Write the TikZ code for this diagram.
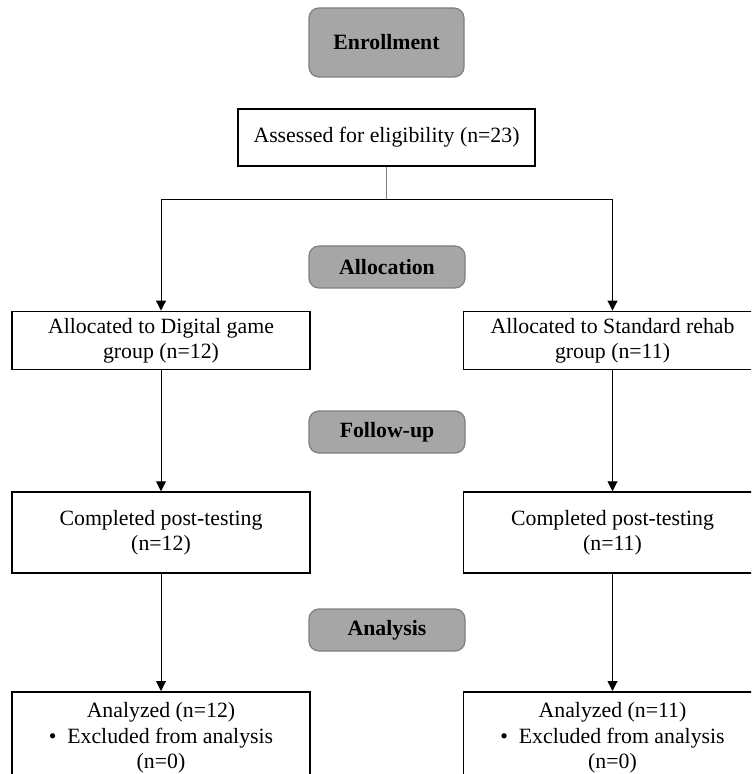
\documentclass[tikz,border=0pt]{standalone}
\usepackage{fontspec}
\setmainfont{Liberation Serif}
\usepackage{xcolor}
\usetikzlibrary{arrows.meta}

\definecolor{stagefill}{HTML}{A6A6A6}
\definecolor{stageline}{HTML}{7F7F7F}

\begin{document}
\begin{tikzpicture}[x=0.5pt, y=-0.5pt,
  font=\fontsize{10.9}{12.6}\selectfont,
  stage/.style={draw=stageline, fill=stagefill, rounded corners=5pt, line width=0.6pt,
    minimum width=78pt, minimum height=21pt, inner sep=0pt, font=\fontsize{10.9}{12.6}\selectfont\bfseries},
  box/.style={draw, line width=0.75pt, minimum width=149pt, align=center, inner xsep=0pt},
  flow/.style={-{Triangle[length=5pt,width=5pt]}, line width=0.5pt}]
\useasboundingbox (0,0) rectangle (751,774);
\clip (0,0) rectangle (751,774);

% stage labels
\node[stage, minimum width=77.5pt, minimum height=34.5pt] (enrol) at (386.5,42.5) {Enrollment};
\node[stage] (alloc) at (387,267) {Allocation};
\node[stage] (follow) at (387,432) {Follow-up};
\node[stage] (analysis) at (387,630) {Analysis};

% boxes
\node[box, minimum width=148.5pt, minimum height=28.5pt] (assess) at (386.5,137.5) {Assessed for eligibility (n=23)};
\node[box, minimum height=28.5pt] (allocL) at (161,340.5) {Allocated to Digital game\\group (n=12)};
\node[box, minimum height=28.5pt] (allocR) at (612.5,340.5) {Allocated to Standard rehab\\group (n=11)};
\node[box, minimum height=40.5pt] (compL) at (161,532.5) {Completed post-testing\\(n=12)};
\node[box, minimum height=40.5pt] (compR) at (612.5,532.5) {Completed post-testing\\(n=11)};
\node[box, anchor=north, inner ysep=5.5pt] (anaL) at (161,691) {Analyzed (n=12)\\\textbullet\ \ Excluded from analysis\\(n=0)};
\node[box, anchor=north, inner ysep=5.5pt] (anaR) at (612.5,691) {Analyzed (n=11)\\\textbullet\ \ Excluded from analysis\\(n=0)};

% connectors
\coordinate (split) at (386.5,200);
\draw[line width=0.5pt, gray] (assess) -- (split);
\draw[flow] (split) -| (allocL);
\draw[flow] (split) -| (allocR);
\draw[flow] (allocL) -- (compL);
\draw[flow] (allocR) -- (compR);
\draw[flow] (compL) -- (anaL);
\draw[flow] (compR) -- (anaR);
\end{tikzpicture}
\end{document}
